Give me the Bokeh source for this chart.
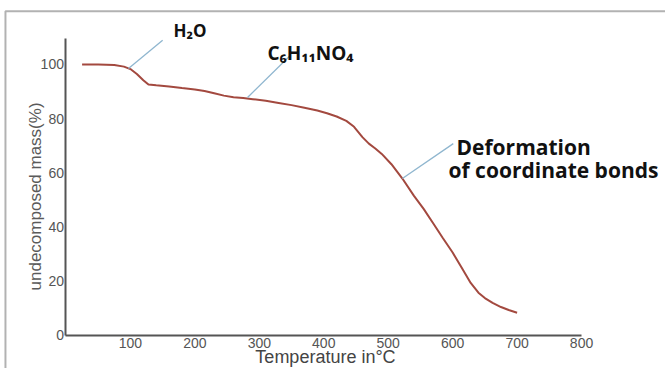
import math
from bokeh.plotting import figure
from bokeh.models import Label, BoxAnnotation, Range1d, FixedTicker, LinearAxis
from bokeh.embed import file_html
from bokeh.resources import INLINE

# --- data ---
temp = [25, 50, 75, 90, 100, 110, 120, 128, 140, 160, 180, 200, 215, 230, 245, 260,
        275, 290, 310, 330, 350, 370, 390, 405, 420, 435, 447, 460, 470, 480, 490,
        505, 522, 540, 555, 570, 585, 600, 615, 628, 640, 650, 662, 675, 687, 700]
mass = [100, 100, 99.8, 99.2, 98.3, 96.5, 94.2, 92.6, 92.3, 91.9, 91.3, 90.8, 90.2,
        89.4, 88.5, 87.9, 87.6, 87.2, 86.6, 85.8, 85.0, 84.0, 83.0, 82.0, 80.8, 79.2,
        77.0, 73.2, 70.8, 69.0, 67.0, 63.2, 57.9, 51.5, 46.7, 41.3, 35.9, 30.6, 24.6,
        19.4, 15.8, 13.8, 12.0, 10.5, 9.4, 8.4]

x_ticks = [100, 200, 300, 400, 500, 600, 700, 800]
y_ticks = [0, 20, 40, 60, 80, 100]
x_axis_span = (0, 800)
y_axis_span = (0, 109.6)

# annotations: (text, x, y) and leader lines (x0, y0, x1, y1)
ann_texts = ["H₂O", "C₆H₁₁NO₄", "Deformation", "of coordinate bonds"]
ann_x = [166.8, 312.7, 606.0, 593.6]
ann_y = [112.5, 104.4, 69.4, 60.9]
ann_size = ["17px", "19px", "21px", "21px"]
lead_x0 = [97, 281.7, 522]
lead_y0 = [98.5, 87.8, 57.9]
lead_x1 = [150, 346.8, 601]
lead_y1 = [108.9, 103.0, 70.8]

x_title = "Temperature in°C"
y_title = "undecomposed mass(%)"

p = figure(width=665, height=368, output_backend="svg", toolbar_location=None,
           x_range=Range1d(-101.6, 930.3), y_range=Range1d(-12.18, 123.6),
           x_axis_location=None, y_axis_location=None,
           min_border=0)
p.outline_line_color = None
p.grid.visible = False
p.background_fill_color = "white"
p.border_fill_color = "white"

xax = LinearAxis(fixed_location=0, bounds=x_axis_span, ticker=FixedTicker(ticks=x_ticks))
yax = LinearAxis(fixed_location=0, bounds=y_axis_span, ticker=FixedTicker(ticks=y_ticks))
for ax in (xax, yax):
    ax.axis_line_color = "#555555"
    ax.axis_line_width = 2
    ax.major_tick_line_color = None
    ax.minor_tick_line_color = None
    ax.major_tick_out = 0
    ax.major_tick_in = 0
    ax.major_label_text_font = "Liberation Sans"
    ax.major_label_text_font_size = "14px"
    ax.major_label_text_color = "#555555"
xax.major_label_standoff = 3
yax.major_label_standoff = 2
p.add_layout(xax, "below")
p.add_layout(yax, "left")

# frame of the picture (black border, top and left visible)
p.add_layout(BoxAnnotation(left=-93.9, right=3000, top=119.6, bottom=-100,
                           fill_color=None, line_color="black", line_width=2))

p.line(temp, mass, line_color="#a3493f", line_width=2)
p.segment(lead_x0, lead_y0, lead_x1, lead_y1, line_color="#8fb6cf", line_width=1.3)

for t, x, y, s in zip(ann_texts, ann_x, ann_y, ann_size):
    p.add_layout(Label(x=x, y=y, text=t, text_font="Open Sans", text_font_style="bold",
                       text_font_size=s, text_color="#111111", text_align="left",
                       text_baseline="middle"))

p.add_layout(Label(x=-47.3, y=51.3, text=y_title, angle=math.pi / 2,
                   text_font="Liberation Sans", text_font_size="17px",
                   text_color="#5a5a5a", text_align="center", text_baseline="middle"))
p.add_layout(Label(x=402.7, y=-11.8, text=x_title, text_font="Liberation Sans",
                   text_font_size="18px", text_color="#444444", text_align="center",
                   text_baseline="bottom"))

open("out.html", "w").write(file_html(p, INLINE))
